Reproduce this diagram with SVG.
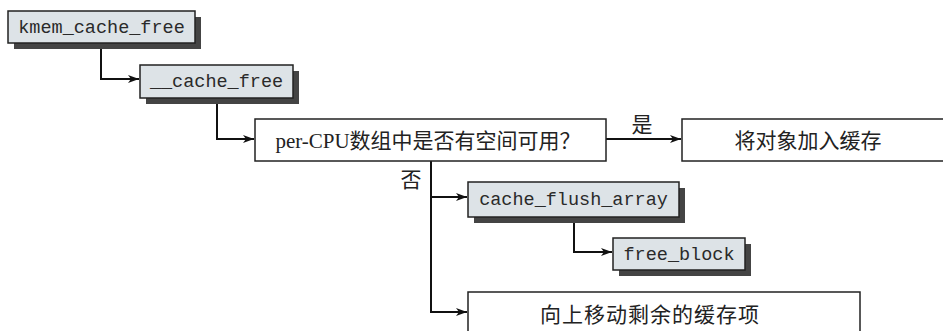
<svg xmlns="http://www.w3.org/2000/svg" width="943" height="331" viewBox="0 0 943 331">
<defs>
<marker id="arr" markerWidth="12" markerHeight="10" refX="11" refY="5" orient="auto" markerUnits="userSpaceOnUse">
<path d="M0,1 L11,5 L0,9 L3,5 Z" fill="#111"/>
</marker>
<style>
.fn rect.sh{fill:#444;}
.fn rect.bx{fill:#dde3e7;stroke:#222;stroke-width:1.5;}
.fn text{font-family:"Liberation Mono","DejaVu Sans Mono",monospace;font-size:18.5px;fill:#2a2a2a;text-anchor:middle;}
.st rect{fill:#fff;stroke:#222;stroke-width:1.5;}
.st text,.lbl{font-family:"Liberation Serif","Noto Sans CJK SC",serif;font-size:21px;fill:#222;text-anchor:middle;}
.conn path{fill:none;stroke:#111;stroke-width:2;marker-end:url(#arr);}
</style>
</defs>
<rect width="943" height="331" fill="#fff"/>
<g class="conn" id="connectors">
<path d="M101,43 V79 H139"/>
<path d="M217,98 V139 H254"/>
<path d="M606,139 H681"/>
<path d="M431,161 V312 H467"/>
<path d="M431,197 H467"/>
<path d="M574,217 V252 H612"/>
</g>
<g id="kmem_cache_free" class="fn">
<rect class="sh" x="14" y="17" width="187" height="32"/>
<rect class="bx" x="8" y="11" width="187" height="32"/>
<text x="101.5" y="33">kmem_cache_free</text>
</g>
<g id="cache_free" class="fn">
<rect class="sh" x="146" y="71" width="153" height="33"/>
<rect class="bx" x="140" y="65" width="153" height="33"/>
<text x="216.5" y="87">__cache_free</text>
</g>
<g id="check" class="st">
<rect x="255" y="119" width="351" height="42"/>
<text x="428" y="148">per-CPU数组中是否有空间可用？</text>
</g>
<g id="add" class="st">
<rect x="682" y="119" width="270" height="42"/>
<text x="808" y="148">将对象加入缓存</text>
</g>
<g id="cache_flush_array" class="fn">
<rect class="sh" x="474" y="188" width="211" height="35"/>
<rect class="bx" x="468" y="182" width="211" height="35"/>
<text x="573.5" y="205">cache_flush_array</text>
</g>
<g id="free_block" class="fn">
<rect class="sh" x="619" y="244" width="132" height="32"/>
<rect class="bx" x="613" y="238" width="132" height="32"/>
<text x="679" y="260">free_block</text>
</g>
<g id="move" class="st">
<rect x="468" y="292" width="392" height="50"/>
<text x="650" y="322" letter-spacing="1">向上移动剩余的缓存项</text>
</g>
<text class="lbl" x="642" y="132">是</text>
<text class="lbl" x="411" y="187">否</text>
</svg>
